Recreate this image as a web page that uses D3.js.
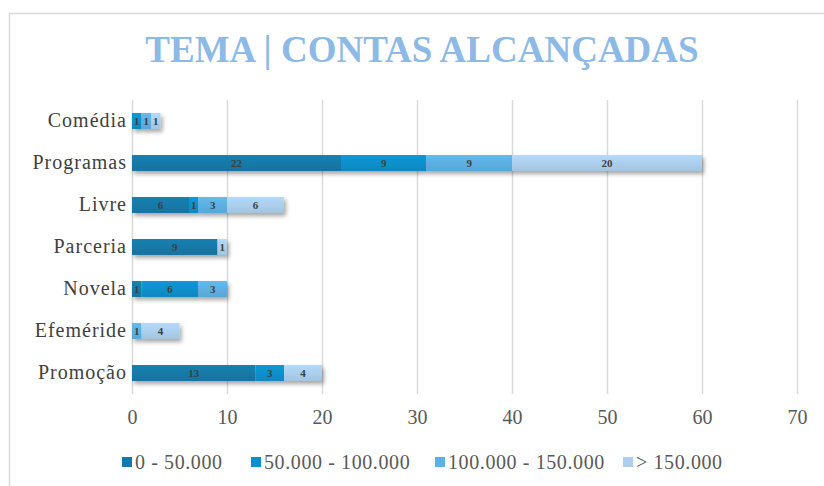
<!DOCTYPE html>
<html>
<head>
<meta charset="utf-8">
<script src="https://cdn.jsdelivr.net/npm/d3@7"></script>
<style>
  html, body { margin: 0; padding: 0; background: #fff; }
  svg text { font-family: "Liberation Serif", "Times New Roman", serif; }
</style>
</head>
<body>
<div id="chart"></div>
<script>
// dados do gráfico
const categories = ['Comédia', 'Programas', 'Livre', 'Parceria', 'Novela', 'Efeméride', 'Promoção'];
const seriesNames = ['0 - 50.000', '50.000 - 100.000', '100.000 - 150.000', '> 150.000'];
const s0_50 = [0, 22, 6, 9, 1, 0, 13];
const s50_100 = [1, 9, 1, 0, 6, 0, 3];
const s100_150 = [1, 9, 3, 0, 3, 1, 0];
const s150 = [1, 20, 6, 1, 0, 4, 4];
const xTicks = [0, 10, 20, 30, 40, 50, 60, 70];
const colors = ['#1479a8', '#0a90cb', '#5cb0e2', '#abcfec'];

const W = 824, H = 486;
const rows = categories.map((c, i) => ({
    cat: c,
    [seriesNames[0]]: s0_50[i],
    [seriesNames[1]]: s50_100[i],
    [seriesNames[2]]: s100_150[i],
    [seriesNames[3]]: s150[i]
}));
const stacked = d3.stack().keys(seriesNames)(rows);

const svg = d3.select('#chart').append('svg')
    .attr('width', W).attr('height', H);

// moldura
svg.append('path')
    .attr('d', `M9.5,${H} V13.5 H${W}`)
    .attr('fill', 'none').attr('stroke', '#d9d9d9').attr('stroke-width', 1.5);

// sombra
const defs = svg.append('defs');
const sh = defs.append('filter').attr('id', 'shadow')
    .attr('x', '-10%').attr('y', '-50%').attr('width', '130%').attr('height', '250%');
sh.append('feDropShadow').attr('dx', 2).attr('dy', 3).attr('stdDeviation', 2)
    .attr('flood-color', '#000').attr('flood-opacity', 0.35);

colors.forEach((c, i) => {
    const lg = defs.append('linearGradient').attr('id', 'grad' + i)
        .attr('x1', 0).attr('y1', 0).attr('x2', 0).attr('y2', 1);
    lg.append('stop').attr('offset', '0%').attr('stop-color', d3.color(c).brighter(0.15));
    lg.append('stop').attr('offset', '100%').attr('stop-color', d3.color(c).darker(0.15));
});

// título
svg.append('text')
    .attr('x', 422).attr('y', 62)
    .attr('text-anchor', 'middle')
    .attr('font-size', 37).attr('font-weight', 'bold')
    .attr('fill', '#8db9e6')
    .text('TEMA | CONTAS ALCANÇADAS');

const x = d3.scaleLinear().domain([0, 70]).range([132, 797]);
const y = d3.scaleBand().domain(categories).range([100, 394]).paddingInner(0.62).paddingOuter(0.31);

// grade
svg.append('g').selectAll('line')
    .data(xTicks)
    .join('line')
    .attr('x1', d => x(d) + 0.5).attr('x2', d => x(d) + 0.5)
    .attr('y1', 100).attr('y2', 394)
    .attr('stroke', '#d9d9d9').attr('stroke-width', 1.5);

// eixo x
const xAxis = svg.append('g')
    .attr('transform', 'translate(0,404)')
    .call(d3.axisBottom(x).tickValues(xTicks).tickSize(0).tickPadding(6));
xAxis.select('.domain').remove();
xAxis.selectAll('text')
    .attr('font-size', 20).attr('fill', '#595959')
    .style('font-family', '"Liberation Serif", serif');

// eixo y
const yAxis = svg.append('g')
    .attr('transform', 'translate(127,0)')
    .call(d3.axisLeft(y).tickSize(0).tickPadding(0));
yAxis.select('.domain').remove();
yAxis.selectAll('text')
    .attr('font-size', 20).attr('fill', '#404040')
    .attr('letter-spacing', 1.0)
    .style('font-family', '"Liberation Serif", serif');

// barras
const barG = svg.append('g').attr('filter', 'url(#shadow)');
stacked.forEach((layer, li) => {
    barG.selectAll('.seg' + li)
        .data(layer.filter(d => d[1] > d[0]))
        .join('rect')
        .attr('x', d => x(d[0]))
        .attr('y', d => y(d.data.cat))
        .attr('width', d => x(d[1]) - x(d[0]))
        .attr('height', y.bandwidth())
        .attr('fill', `url(#grad${li})`);
});

// rótulos
stacked.forEach((layer, li) => {
    svg.append('g').selectAll('text')
        .data(layer.filter(d => d[1] > d[0]))
        .join('text')
        .attr('x', d => (x(d[0]) + x(d[1])) / 2)
        .attr('y', d => y(d.data.cat) + y.bandwidth() / 2 + 4)
        .attr('text-anchor', 'middle')
        .attr('font-size', 11).attr('font-weight', 'bold')
        .attr('fill', '#404040')
        .text(d => d[1] - d[0]);
});

// legenda
const legendX = [122, 251, 435, 623];
const leg = svg.append('g').selectAll('g')
    .data(seriesNames)
    .join('g')
    .attr('transform', (d, i) => `translate(${legendX[i]},462)`);
leg.append('rect')
    .attr('x', 0).attr('y', -5).attr('width', 10).attr('height', 10)
    .attr('fill', (d, i) => colors[i]);
leg.append('text')
    .attr('x', 13).attr('y', 7)
    .attr('font-size', 20).attr('fill', '#595959')
    .attr('letter-spacing', 0.6)
    .text(d => d);
</script>
</body>
</html>
